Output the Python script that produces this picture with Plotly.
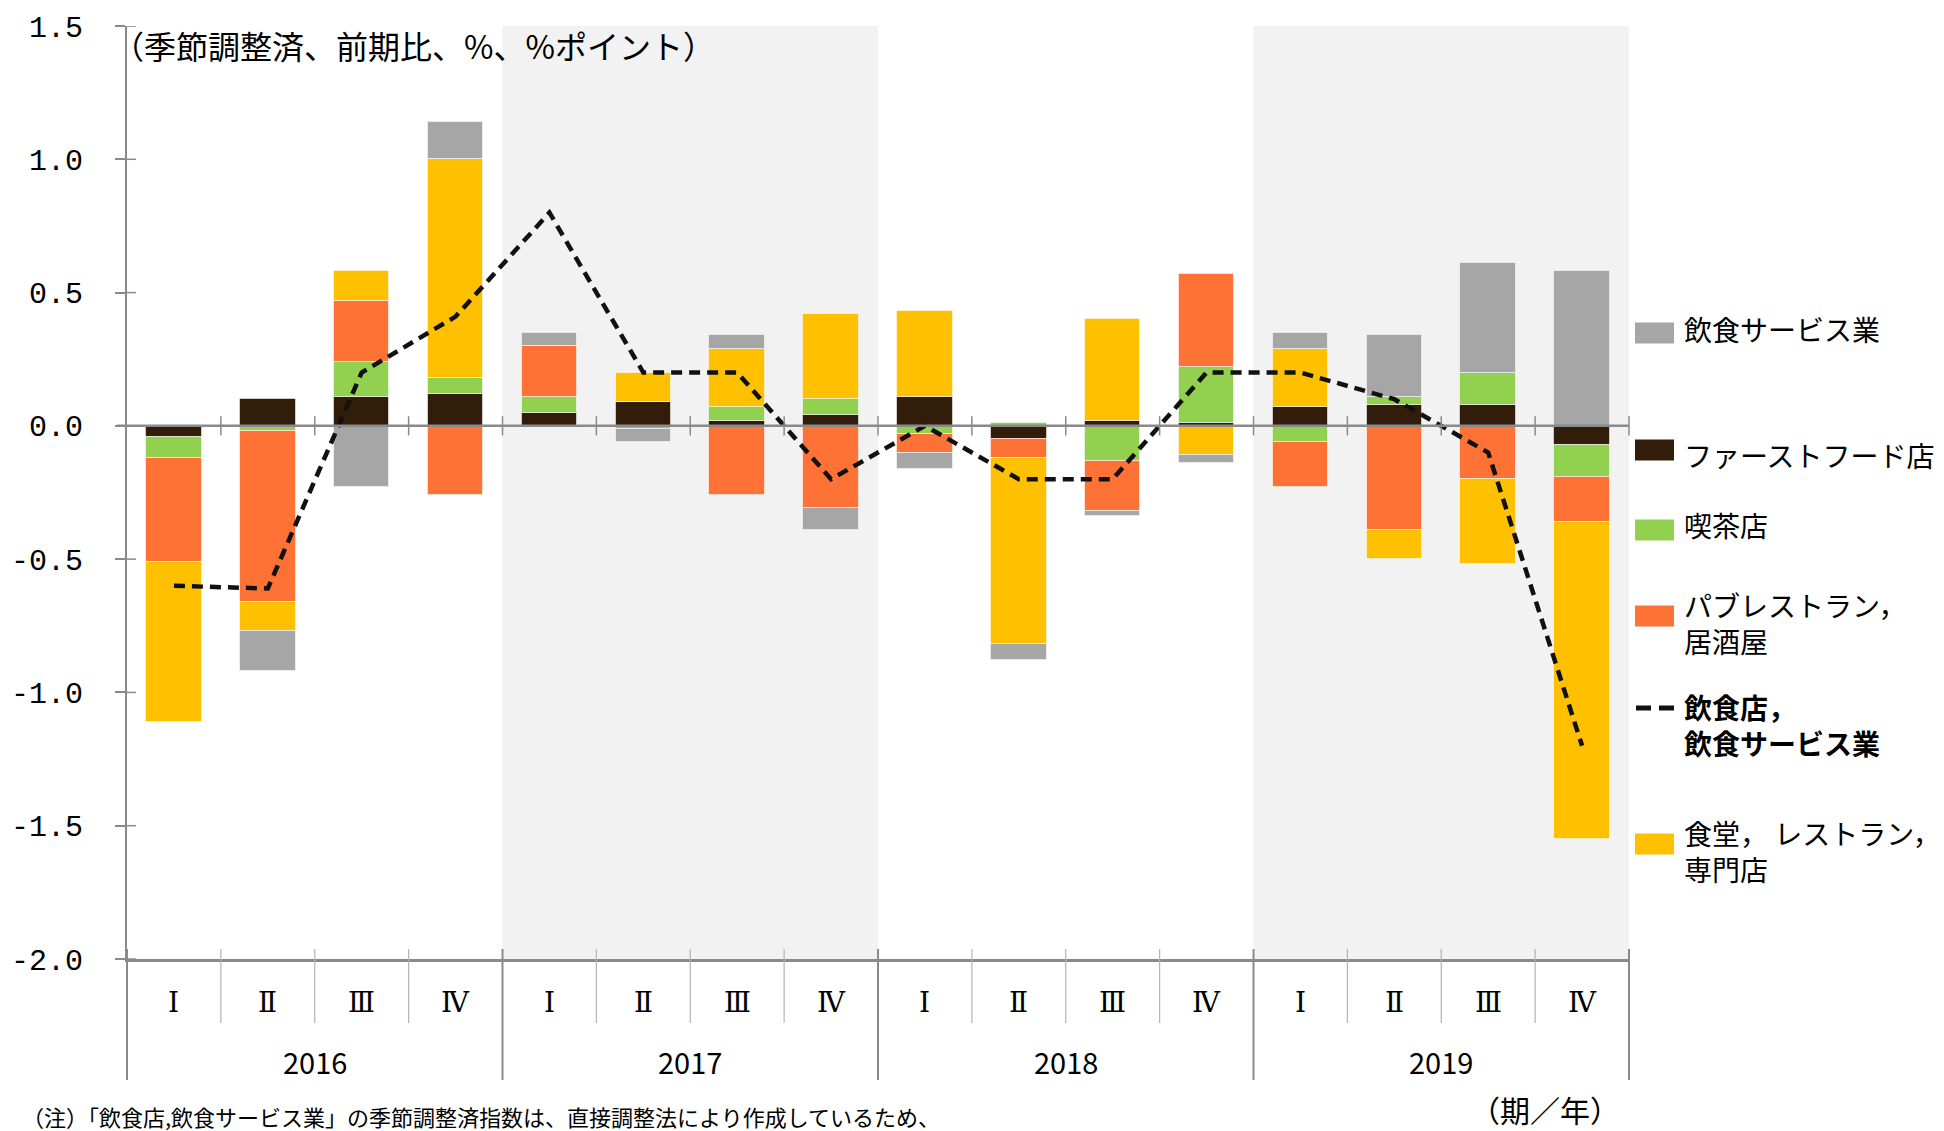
import plotly.graph_objects as go

# ---- data: contributions to the q/q change (seasonally adjusted, % / %pt) ----
YEARS = ["2016", "2017", "2018", "2019"]
QUARTERS = ["Ⅰ", "Ⅱ", "Ⅲ", "Ⅳ"]

fast_food = [-0.04, 0.10, 0.11, 0.12, 0.05, 0.09, 0.02, 0.04,
             0.11, -0.05, 0.02, 0.01, 0.07, 0.08, 0.08, -0.07]
cafe = [-0.08, -0.02, 0.13, 0.06, 0.06, -0.01, 0.05, 0.06,
        -0.03, 0.01, -0.13, 0.21, -0.06, 0.03, 0.12, -0.12]
pub_izakaya = [-0.39, -0.64, 0.23, -0.26, 0.19, 0.00, -0.26, -0.31,
               -0.07, -0.07, -0.19, 0.35, -0.17, -0.39, -0.20, -0.17]
restaurant = [-0.60, -0.11, 0.11, 0.82, 0.00, 0.11, 0.22, 0.32,
              0.32, -0.70, 0.38, -0.11, 0.22, -0.11, -0.32, -1.19]
food_service = [0.00, -0.15, -0.23, 0.14, 0.05, -0.05, 0.05, -0.08,
                -0.06, -0.06, -0.02, -0.03, 0.06, 0.23, 0.41, 0.58]
total = [-0.60, -0.61, 0.20, 0.41, 0.80, 0.20, 0.20, -0.20,
         0.00, -0.20, -0.20, 0.20, 0.20, 0.10, -0.10, -1.20]

Y_TICKS = [1.5, 1.0, 0.5, 0.0, -0.5, -1.0, -1.5, -2.0]

# ---- styling ----
FONT = "Noto Sans CJK JP"
NUM_FONT = "Liberation Mono, DejaVu Sans Mono, monospace"
ROMAN_FONT = "DejaVu Serif, Noto Sans CJK JP"
AXIS_GRAY = "#8a8a8a"
SHADE = "#F2F2F2"
COLORS = {
    "ff": "#321D0B",
    "cafe": "#92D050",
    "pub": "#FF7235",
    "rest": "#FFC000",
    "serv": "#A6A6A6",
}

W, H = 1944, 1131
ML, MR, MT, MB = 127, 315, 26, 172
PW, PH = W - ML - MR, H - MT - MB


def px(x_pix):
    """pixel column -> paper x"""
    return (x_pix - ML) / PW


def py(y_pix):
    """pixel row -> paper y"""
    return (H - MB - y_pix) / PH


n_q = len(QUARTERS)
n = len(YEARS) * n_q
xs = list(range(n))

fig = go.Figure()

# stacked bars (stacking order from the zero line outward)
bar_series = [
    ("ファーストフード店", fast_food, COLORS["ff"]),
    ("喫茶店", cafe, COLORS["cafe"]),
    ("パブレストラン，居酒屋", pub_izakaya, COLORS["pub"]),
    ("食堂，レストラン，専門店", restaurant, COLORS["rest"]),
    ("飲食サービス業", food_service, COLORS["serv"]),
]
for name, vals, col in bar_series:
    fig.add_trace(go.Bar(
        x=xs, y=vals, name=name, width=0.59,
        marker=dict(color=col, line=dict(color="rgba(255,255,255,0.55)", width=1)),
        showlegend=False,
    ))

fig.add_trace(go.Scatter(
    x=xs, y=total, name="飲食店，飲食サービス業", mode="lines",
    line=dict(color="#111111", width=4.5, dash="11px,7px"),
    showlegend=False,
))

shapes = []
# shaded alternate years
for j in range(len(YEARS)):
    if j % 2 == 1:
        shapes.append(dict(type="rect", xref="paper", yref="paper",
                           x0=j * n_q / n, x1=(j + 1) * n_q / n, y0=0, y1=1,
                           fillcolor=SHADE, line=dict(width=0), layer="below"))

# zero line with small boundary ticks
shapes.append(dict(type="line", xref="paper", yref="y", x0=px(117), x1=1, y0=0, y1=0,
                   line=dict(color=AXIS_GRAY, width=2.5), layer="above"))
for k in range(1, n + 1):
    shapes.append(dict(type="line", xref="paper", yref="y", x0=k / n, x1=k / n,
                       y0=-0.036, y1=0.036,
                       line=dict(color=AXIS_GRAY, width=1.5), layer="above"))

# inner half of the y-axis cross ticks
for v in Y_TICKS:
    shapes.append(dict(type="line", xref="paper", yref="y", x0=0, x1=9 / PW, y0=v, y1=v,
                       line=dict(color=AXIS_GRAY, width=1.5), layer="above"))

# category separators below the plot
for k in range(n + 1):
    year_edge = k % n_q == 0
    shapes.append(dict(type="line", xref="paper", yref="paper", x0=k / n, x1=k / n,
                       y0=py(949), y1=py(1080 if year_edge else 1023),
                       line=dict(color=AXIS_GRAY if year_edge else "#b4b4b4",
                                 width=2 if year_edge else 1.2)))

annotations = []
for i in xs:
    annotations.append(dict(x=i, y=py(1002), xref="x", yref="paper", text=QUARTERS[i % n_q],
                            showarrow=False, yanchor="middle",
                            font=dict(family=ROMAN_FONT, size=28, color="#000")))
for j, yr in enumerate(YEARS):
    annotations.append(dict(x=j * n_q + (n_q - 1) / 2, y=py(1061), xref="x", yref="paper",
                            text=yr, showarrow=False, yanchor="middle",
                            font=dict(family=FONT, size=29, color="#000")))

annotations.append(dict(x=px(110), y=py(45), xref="paper", yref="paper",
                        text="（季節調整済、前期比、%、%ポイント）", showarrow=False,
                        xanchor="left", yanchor="middle",
                        font=dict(family=FONT, size=32, color="#000")))
annotations.append(dict(x=px(20), y=py(1116), xref="paper", yref="paper",
                        text="（注）「飲食店,飲食サービス業」の季節調整済指数は、直接調整法により作成しているため、",
                        showarrow=False, xanchor="left", yanchor="middle",
                        font=dict(family=FONT, size=22, color="#000")))
annotations.append(dict(x=px(1468), y=py(1109), xref="paper", yref="paper",
                        text="（期／年）", showarrow=False, xanchor="left", yanchor="middle",
                        font=dict(family=FONT, size=30, color="#000")))

# legend drawn beside the plot: (label, color, kind, symbol y, text y)
legend_items = [
    ("飲食サービス業", COLORS["serv"], "box", 333, 329),
    ("ファーストフード店", COLORS["ff"], "box", 450, 455),
    ("喫茶店", COLORS["cafe"], "box", 530, 525),
    ("パブレストラン，<br>居酒屋", COLORS["pub"], "box", 616, 623),
    ("<b>飲食店，<br>飲食サービス業</b>", "#111111", "line", 708, 725),
    ("食堂， レストラン，<br>専門店", COLORS["rest"], "box", 844, 851),
]
for label, col, kind, sy, ty in legend_items:
    if kind == "box":
        shapes.append(dict(type="rect", xref="paper", yref="paper",
                           x0=px(1635), x1=px(1674), y0=py(sy + 10.5), y1=py(sy - 10.5),
                           fillcolor=col, line=dict(width=0)))
    else:
        shapes.append(dict(type="line", xref="paper", yref="paper",
                           x0=px(1636), x1=px(1675), y0=py(sy), y1=py(sy),
                           line=dict(color=col, width=5, dash="15px,8px")))
    annotations.append(dict(x=px(1682), y=py(ty), xref="paper", yref="paper", text=label,
                            showarrow=False, xanchor="left", yanchor="middle", align="left",
                            font=dict(family=FONT, size=28, color="#000")))

fig.update_layout(
    width=W, height=H,
    margin=dict(l=ML, r=MR, t=MT, b=MB, pad=0, autoexpand=False),
    barmode="relative", bargap=0,
    paper_bgcolor="white", plot_bgcolor="white",
    font=dict(family=FONT, color="#000"),
    shapes=shapes, annotations=annotations,
    showlegend=False,
    xaxis=dict(range=[-0.5, n - 0.5], showticklabels=False, ticks="", showgrid=False,
               zeroline=False, showline=True, linecolor=AXIS_GRAY, linewidth=3,
               automargin=False, fixedrange=True),
    yaxis=dict(range=[Y_TICKS[-1], Y_TICKS[0]], tickvals=Y_TICKS,
               ticktext=[f"{v:.1f}" for v in Y_TICKS],
               ticks="outside", ticklen=10, tickwidth=1.5, tickcolor=AXIS_GRAY,
               ticklabelstandoff=26,
               showgrid=False, zeroline=False, showline=True, linecolor=AXIS_GRAY,
               linewidth=2, tickfont=dict(family=NUM_FONT, size=30, color="#000"),
               automargin=False, fixedrange=True),
)

fig.write_html("out.html")
